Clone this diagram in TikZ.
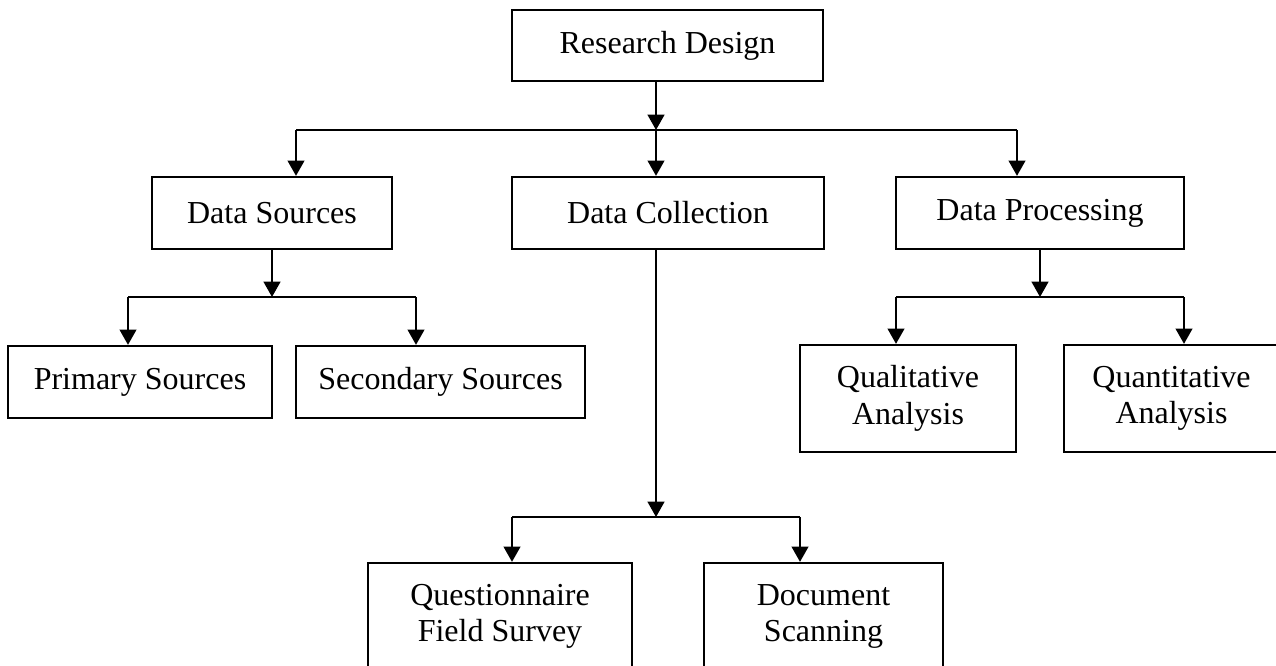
\documentclass[tikz,border=0pt]{standalone}
\usepackage{fontspec}
\setmainfont{Liberation Serif}
\usetikzlibrary{arrows.meta}
\begin{document}
\begin{tikzpicture}[x=0.75pt,y=-0.75pt,
  box/.style={draw, line width=1.7pt, inner sep=0pt, align=center, font=\fontsize{24}{27.5}\selectfont},
  link/.style={line width=1.7pt},
  arr/.style={link, -{Triangle[width=12.5pt,length=11.5pt]}}]
\path[fill=white,use as bounding box] (0,0) rectangle (1276,665);

\node[box, minimum width=233.25pt, minimum height=53.25pt] (rd) at (667.5,45.5) {Research Design};
\node[box, minimum width=180pt, minimum height=54pt] (ds) at (272,213) {Data Sources};
\node[box, minimum width=234pt, minimum height=54pt] (dc) at (668,213) {Data Collection};
\node[box, minimum width=216pt, minimum height=54pt] (dp) at (1040,213) {Data Processing};
\node[box, minimum width=198pt, minimum height=54pt] (ps) at (140,382) {Primary Sources};
\node[box, minimum width=216.75pt, minimum height=54pt] (ss) at (440.5,382) {Secondary Sources};
\node[box, minimum width=162pt, minimum height=80.25pt] (ql) at (908,398.5) {Qualitative\\Analysis};
\node[box, minimum width=161.25pt, minimum height=80.25pt] (qn) at (1171.5,398.5) {Quantitative\\Analysis};
\node[box, minimum width=198pt, minimum height=80.25pt] (qf) at (500,616.5) {Questionnaire\\Field Survey};
\node[box, minimum width=179.25pt, minimum height=80.25pt] (doc) at (823.5,616.5) {Document\\Scanning};

% level 1
\coordinate (j0) at (656,130);
\coordinate (a1) at (296,130);
\coordinate (a3) at (1017,130);
\draw[arr] (rd.south -| j0) -- (j0);
\draw[link] (a1) -- (a3);
\draw[arr] (a1) -- (a1 |- ds.north);
\draw[arr] (j0) -- (j0 |- dc.north);
\draw[arr] (a3) -- (a3 |- dp.north);

% data sources
\coordinate (j1) at (272,297);
\coordinate (b1) at (128,297);
\coordinate (b2) at (416,297);
\draw[arr] (ds.south -| j1) -- (j1);
\draw[link] (b1) -- (b2);
\draw[arr] (b1) -- (b1 |- ps.north);
\draw[arr] (b2) -- (b2 |- ss.north);

% data processing
\coordinate (j2) at (1040,297);
\coordinate (c1) at (896,297);
\coordinate (c2) at (1184,297);
\draw[arr] (dp.south -| j2) -- (j2);
\draw[link] (c1) -- (c2);
\draw[arr] (c1) -- (c1 |- ql.north);
\draw[arr] (c2) -- (c2 |- qn.north);

% data collection
\coordinate (j3) at (656,517);
\coordinate (d1) at (512,517);
\coordinate (d2) at (800,517);
\draw[arr] (dc.south -| j3) -- (j3);
\draw[link] (d1) -- (d2);
\draw[arr] (d1) -- (d1 |- qf.north);
\draw[arr] (d2) -- (d2 |- doc.north);
\end{tikzpicture}
\end{document}
